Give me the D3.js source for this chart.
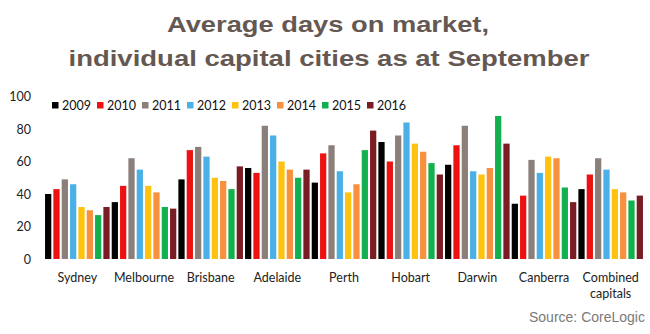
<!DOCTYPE html>
<html>
<head>
<meta charset="utf-8">
<script src="https://cdn.jsdelivr.net/npm/d3@7/dist/d3.min.js"></script>
<style>
  html, body { margin: 0; padding: 0; background: #fff; }
  svg { display: block; }
</style>
</head>
<body>
<svg id="chart" width="650" height="334"></svg>
<script>
const cities = ["Sydney", "Melbourne", "Brisbane", "Adelaide", "Perth", "Hobart", "Darwin", "Canberra", "Combined capitals"];
const years = ["2009", "2010", "2011", "2012", "2013", "2014", "2015", "2016"];
const colors = ["#000000", "#ee1111", "#8a7f79", "#4ab0e6", "#ffc20e", "#f7913d", "#13b04f", "#7a1c23"];

const v2009 = [40, 35, 49, 56, 47, 72, 58, 34, 43];
const v2010 = [43, 45, 67, 53, 65, 60, 70, 39, 52];
const v2011 = [49, 62, 69, 82, 70, 76, 82, 61, 62];
const v2012 = [46, 55, 63, 76, 54, 84, 54, 53, 55];
const v2013 = [32, 45, 50, 60, 41, 71, 52, 63, 43];
const v2014 = [30, 41, 48, 55, 46, 66, 56, 62, 41];
const v2015 = [27, 32, 43, 50, 67, 59, 88, 44, 36];
const v2016 = [32, 31, 57, 55, 79, 52, 71, 35, 39];
const series = [v2009, v2010, v2011, v2012, v2013, v2014, v2015, v2016];

const yTicks = [0, 20, 40, 60, 80, 100];

const svg = d3.select("#chart");

// Title
const titleColor = "#655852";
const title = svg.append("g")
  .attr("font-family", "'Liberation Sans', Arial, sans-serif")
  .attr("font-weight", "bold")
  .attr("font-size", 21.5)
  .attr("fill", titleColor)
  .attr("text-anchor", "middle");
title.append("text").attr("x", 328).attr("y", 32)
  .attr("textLength", 322).attr("lengthAdjust", "spacingAndGlyphs")
  .text("Average days on market,");
title.append("text").attr("x", 329).attr("y", 66)
  .attr("textLength", 521).attr("lengthAdjust", "spacingAndGlyphs")
  .text("individual capital cities as at September");

// Scales
const x0 = d3.scaleBand().domain(cities).range([44, 644]).paddingInner(0).paddingOuter(0);
const x1 = d3.scaleBand().domain(years).range([0, x0.bandwidth()]).paddingInner(0.25).paddingOuter(0.125);
const y = d3.scaleLinear().domain([0, 100]).range([259, 96.5]);

const labelFont = "Lato, 'Open Sans', sans-serif";

// Y axis (labels only)
const yAxis = d3.axisLeft(y).tickValues(yTicks).tickSize(0).tickPadding(0);
const yG = svg.append("g").attr("transform", "translate(31,0)").call(yAxis);
yG.select(".domain").remove();
yG.selectAll("text").attr("font-family", labelFont).attr("font-size", 12.5).attr("fill", "#222").attr("dy", "0.35em");

// Bars
const groups = svg.append("g").selectAll("g")
  .data(cities)
  .join("g")
  .attr("transform", d => `translate(${x0(d)},0)`);

groups.selectAll("rect")
  .data((c, ci) => years.map((yr, yi) => ({ yr, yi, v: series[yi][ci] })))
  .join("rect")
  .attr("x", d => x1(d.yr))
  .attr("width", x1.bandwidth())
  .attr("y", d => y(d.v))
  .attr("height", d => y(0) - y(d.v))
  .attr("fill", d => colors[d.yi]);

// X axis labels
const xAxis = d3.axisBottom(x0).tickSize(0).tickPadding(0).tickFormat(() => "");
const xG = svg.append("g").attr("transform", `translate(0,${y(0)})`).call(xAxis);
xG.select(".domain").remove();
xG.selectAll(".tick").each(function(d) {
  const t = d3.select(this).append("text")
    .attr("font-family", labelFont).attr("font-size", 12.5).attr("fill", "#222")
    .attr("text-anchor", "middle");
  const words = d === "Combined capitals" ? ["Combined", "capitals"] : [d];
  words.forEach((w, i) => {
    t.append("tspan").attr("x", 0).attr("y", 23 + i * 15.7).text(w);
  });
});

// Legend
const legend = svg.append("g").attr("transform", "translate(52,102)");
const li = legend.selectAll("g").data(years).join("g")
  .attr("transform", (d, i) => `translate(${i * 45},0)`);
li.append("rect").attr("width", 6.5).attr("height", 6.5).attr("fill", (d, i) => colors[i]);
li.append("text").attr("x", 10).attr("y", 3.3).attr("dy", "0.35em")
  .attr("font-family", labelFont).attr("font-size", 12.5).attr("fill", "#111")
  .text(d => d);

// Source
svg.append("text").attr("x", 529).attr("y", 322)
  .attr("font-family", "'Liberation Sans', Arial, sans-serif")
  .attr("font-size", 14).attr("fill", "#7a7a7a")
  .text("Source: CoreLogic");
</script>
</body>
</html>
